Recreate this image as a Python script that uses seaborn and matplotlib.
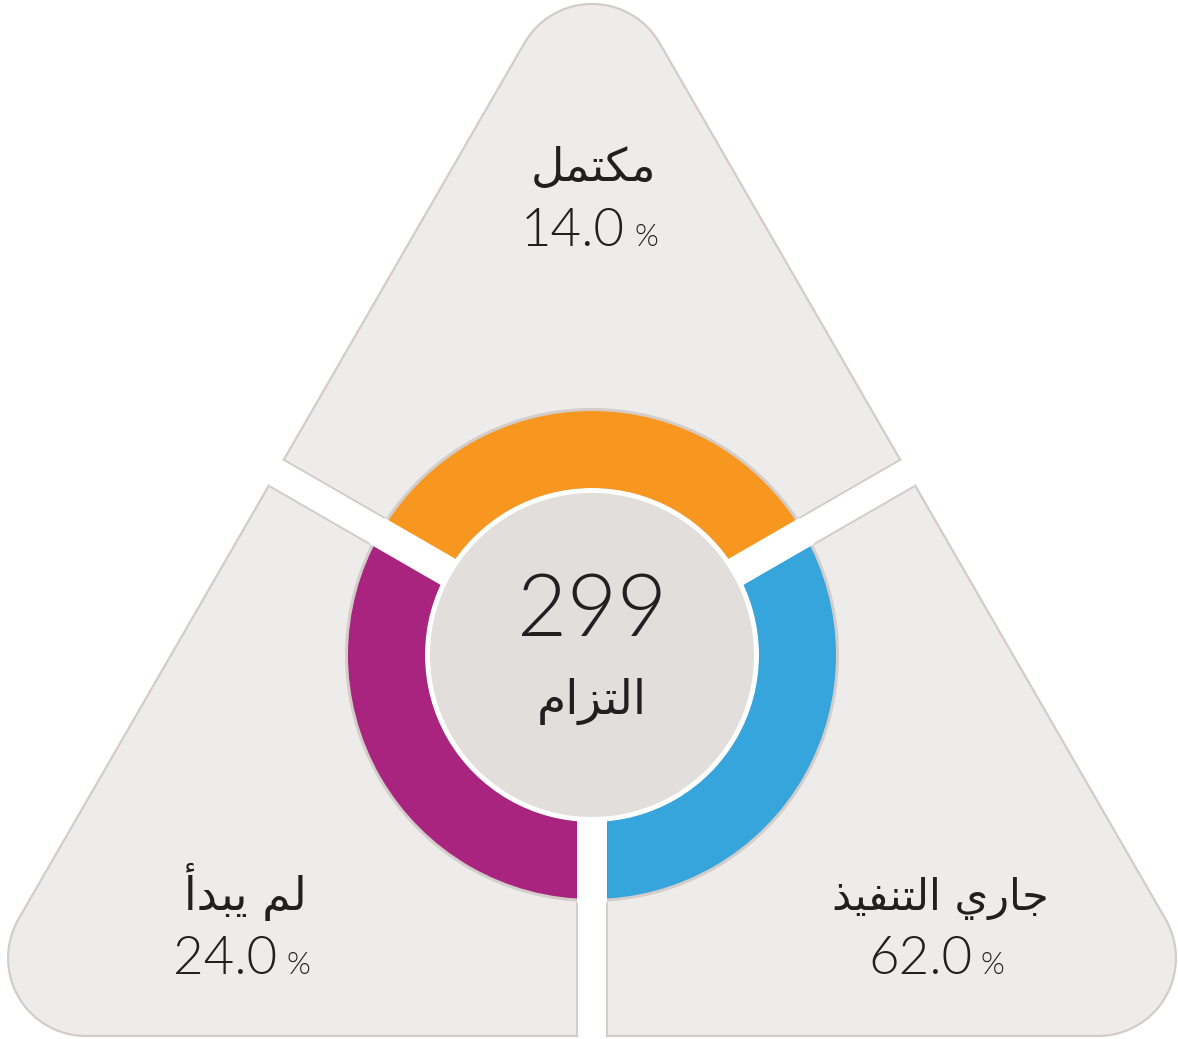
import numpy as np
import matplotlib
matplotlib.use("Agg")
import matplotlib.pyplot as plt
import seaborn as sns
from matplotlib.patches import Polygon, Circle

# data
statuses = ["مكتمل", "جاري التنفيذ", "لم يبدأ"]
shares = [14.0, 62.0, 24.0]
colors = ["#f7971f", "#35a5dc", "#a8247f"]
total_commitments = 299
total_label = "التزام"

W, H = 1178, 1039
CX, CY = 592, H - 655          # donut centre
R_OUT, R_IN, R_HOLE = 244, 167, 162
GAP = 15                        # half width of the white cuts
FILL, EDGE, INK = "#edecea", "#d3ccc9", "#231f20"

# label anchors (x, y of name, y of percent) for each status
label_pos = [(593, H - 168, H - 232), (940, H - 898, H - 959), (245, H - 892, H - 959)]
name_sizes = [33, 31, 33]

# matplotlib does not join arabic letters, so shape them by hand
FORMS = {
    "ا": (0xFE8D, 0xFE8E), "أ": (0xFE83, 0xFE84),
    "د": (0xFEA9, 0xFEAA), "ذ": (0xFEAB, 0xFEAC),
    "ر": (0xFEAD, 0xFEAE), "ز": (0xFEAF, 0xFEB0),
    "ب": (0xFE8F, 0xFE90, 0xFE91, 0xFE92), "ت": (0xFE95, 0xFE96, 0xFE97, 0xFE98),
    "ج": (0xFE9D, 0xFE9E, 0xFE9F, 0xFEA0), "ف": (0xFED1, 0xFED2, 0xFED3, 0xFED4),
    "ك": (0xFED9, 0xFEDA, 0xFEDB, 0xFEDC), "ل": (0xFEDD, 0xFEDE, 0xFEDF, 0xFEE0),
    "م": (0xFEE1, 0xFEE2, 0xFEE3, 0xFEE4), "ن": (0xFEE5, 0xFEE6, 0xFEE7, 0xFEE8),
    "ي": (0xFEF1, 0xFEF2, 0xFEF3, 0xFEF4),
}


def shape(text):
    out = []
    for i, ch in enumerate(text):
        if ch not in FORMS:
            out.append(ch)
            continue
        f = FORMS[ch]
        prev = text[i - 1] if i > 0 else ""
        nxt = text[i + 1] if i + 1 < len(text) else ""
        jp = prev in FORMS and len(FORMS[prev]) == 4
        jn = len(f) == 4 and nxt in FORMS
        if jp and jn:
            c = f[3]
        elif jp:
            c = f[1]
        elif jn:
            c = f[2]
        else:
            c = f[0]
        out.append(chr(c))
    return "".join(reversed(out))


def rounded_triangle(verts, r, n=40):
    verts = np.array(verts, float)
    cen = verts.mean(axis=0)
    pts = []
    for v in verts:
        d = (cen - v) / np.linalg.norm(cen - v)
        c = v + d * 2 * r
        mid = np.arctan2(v[1] - c[1], v[0] - c[0])
        for a in np.linspace(mid - np.pi / 3, mid + np.pi / 3, n):
            pts.append((c[0] + r * np.cos(a), c[1] + r * np.sin(a)))
    return np.array(pts)


def band(angle, hw, r0, r1):
    d = np.array([np.cos(np.radians(angle)), np.sin(np.radians(angle))])
    nrm = np.array([-d[1], d[0]])
    c = np.array([CX, CY])
    return [c + d * r0 + nrm * hw, c + d * r1 + nrm * hw,
            c + d * r1 - nrm * hw, c + d * r0 - nrm * hw]


sns.set_theme(style="white")
plt.rcParams["font.family"] = ["DejaVu Sans"]

fig = plt.figure(figsize=(W / 100, H / 100), dpi=100)
ax = fig.add_axes([0, 0, 1, 1])

# background triangle split into three parts
tri = Polygon(rounded_triangle([(-49, 3), (1233, 3), (592, H + 74)], 78),
              closed=True, facecolor=FILL, edgecolor=EDGE, lw=1.6, zorder=1)
ax.add_patch(tri)
cut_angles = [150, 30, 270]
for a in cut_angles:
    b = Polygon(band(a, GAP, 0, 900), closed=True, facecolor="white",
                edgecolor=EDGE, lw=1.4, zorder=2)
    ax.add_patch(b)
    b.set_clip_path(tri)
    ax.add_patch(Polygon(band(a, GAP - 1.5, 300, 900), closed=True,
                         facecolor="white", lw=0, zorder=2.5))

# donut
ax.add_patch(Circle((CX, CY), R_OUT + 3, facecolor=EDGE, lw=0, zorder=3))
ax.add_patch(Circle((CX, CY), R_IN, facecolor="white", lw=0, zorder=3.1))
wedges, _ = ax.pie([1] * len(statuses), colors=colors, startangle=150,
                   counterclock=False, radius=R_OUT, center=(CX, CY),
                   wedgeprops=dict(width=R_OUT - R_IN, linewidth=0), frame=True)
for w in wedges:
    w.set_zorder(4)
for a in cut_angles:
    ax.add_patch(Polygon(band(a, GAP, 0, R_OUT + 4), closed=True,
                         facecolor="white", lw=0, zorder=5))
ax.add_patch(Circle((CX, CY), R_HOLE, facecolor="#e2dedc", lw=0, zorder=6))

# texts
num_font = ["Lato", "DejaVu Sans"]
ax.text(CX, H - 612, str(total_commitments), ha="center", va="center",
        fontsize=62, family=num_font, weight=300, color=INK, zorder=7)
ax.text(CX, H - 701, shape(total_label), ha="center", va="center",
        fontsize=34, color=INK, zorder=7)

for name, pct, (x, ly, py), fs in zip(statuses, shares, label_pos, name_sizes):
    ax.text(x, ly, shape(name), ha="center", va="center", fontsize=fs,
            color=INK, zorder=7)
    ax.text(x + 32, py, f"{pct:.1f}", ha="right", va="center", fontsize=38,
            family=num_font, weight=300, color=INK, zorder=7)
    ax.text(x + 41, py - 6, "%", ha="left", va="center", fontsize=22,
            family=num_font, weight=300, color=INK, zorder=7)

ax.set_xlim(0, W)
ax.set_ylim(0, H)
ax.set_aspect("equal")
ax.axis("off")
fig.savefig("out.png", dpi=100, facecolor="white")
